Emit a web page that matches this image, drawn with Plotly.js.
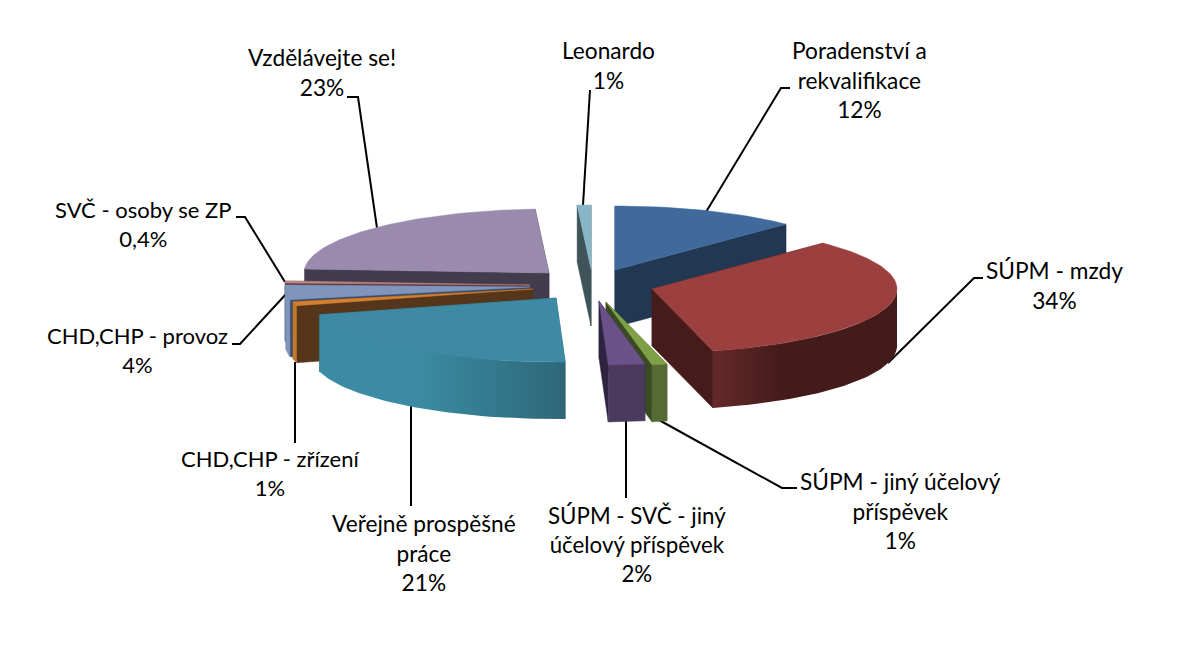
<!DOCTYPE html>
<html><head><meta charset="utf-8">
<script src="https://cdn.plot.ly/plotly-3.0.1.min.js"></script>
<style>html,body{margin:0;padding:0;background:#fff}#c{width:1194px;height:645px}</style>
</head><body><div id="c"></div>
<script>
// ---- data (clockwise from 12 o'clock) ----
var categories = ["Poradenství a<br>rekvalifikace","SÚPM - mzdy","SÚPM - jiný účelový<br>příspěvek","SÚPM - SVČ - jiný<br>účelový příspěvek","Veřejně prospěšné<br>práce","CHD,CHP - zřízení","CHD,CHP - provoz","SVČ - osoby se ZP","Vzdělávejte se!","Leonardo"];
var shares = [12.3,33.7,1.0,2.4,21.4,1.0,3.7,0.5,23.1,0.9];
var shareLabels = ["12%","34%","1%","2%","21%","1%","4%","0,4%","23%","1%"];

// ---- pie projection ----
var RX=245, RY=64, DEPTH=57;
// exploded apex of each slice, in axis units
var apexX=[615,652,606,599,556,533,530,530,549,591];
var apexY=[270,289,302,301,298,289,287,285,273,269];
var drawOrder=[9,0,8,7,6,5,1,2,3,4];
var topColors=["#416a9c","#9b403e","#80a048","#6a5288","#3e8aa4","#d58030","#7f95bc","#c08886","#9a8aae","#86b6c8"];
var wallColors=["#223752","#451c19","#3a4a22","#2e2340","#2f6878","#56361a","#3a4d6e","#5f3a3f","#423c4c","#3f5459"];
var outerFrom=["#223752","#66292a","#566a33","#4c3a5e","#3a8ba3","#c07a30","#7f95bc","#c08886","#423c4c","#3f5459"];
var outerTo=["#223752","#431b1a","#566a33","#4c3a5e","#2e6777","#c07a30","#7f95bc","#c08886","#423c4c","#3f5459"];
var gradientStops=[null,[[0,0],[0.38,1],[1,1]],null,null,[[0,0],[0.4,0],[1,1]],null,null,null,null,null];
// label placement
var labelX=[859,1054,900,637,424,270,137,143,322,608];
var labelY=[80,285,511,544,553,473,350,224,72,65];
var labelSize=[22.7,22.7,22.7,22.3,22.7,22,22,22,22.7,22.7];
// leader lines
var leaderX=[[706,781,790],[888,974,983],[659,782,797],[626,626],[411,411],[295,295],[287,240,232],[285,245,236],[377,358,347],[583,590]];
var leaderY=[[212,88,88],[363,278,278],[420,488,488],[421,498],[406,506],[362,443],[293,344,344],[282,217,217],[228,97,97],[205,90]];

function pt(i,t,drop){var a=t*Math.PI/180;return [apexX[i]+RX*Math.sin(a),apexY[i]-RY*Math.cos(a)+(drop?DEPTH:0)];}
function poly(name,pts,color,scale){
  var tr={type:"scatter",mode:"lines",name:name,hoverinfo:"skip",showlegend:false,fill:"toself",
    x:pts.map(function(p){return p[0]}).concat(pts[0][0]),
    y:pts.map(function(p){return p[1]}).concat(pts[0][1]),
    fillcolor:color,line:{width:0.5,color:color}};
  if(scale){tr.fillgradient={type:"horizontal",colorscale:scale};tr.line={width:0};delete tr.fillcolor;}
  return tr;
}
function wall(i,t){var a=[apexX[i],apexY[i]],b=pt(i,t,false),c=pt(i,t,true);return [a,b,c,[a[0],a[1]+DEPTH]];}
function arc(i,t0,t1,drop){var r=[],n=Math.max(2,Math.ceil(Math.abs(t1-t0)/1.5));for(var k=0;k<=n;k++)r.push(pt(i,t0+(t1-t0)*k/n,drop));return r;}

var starts=[],acc=0;shares.forEach(function(s){starts.push(acc);acc+=s;});
var traces=[];
leaderX.forEach(function(lx,i){traces.push({type:"scatter",mode:"lines",name:"leader",hoverinfo:"skip",showlegend:false,x:lx,y:leaderY[i],line:{color:"#000",width:2}});});
drawOrder.forEach(function(i){
  var t0=starts[i]*3.6,t1=(starts[i]+shares[i])*3.6,nm=categories[i].replace("<br>"," ");
  if((t0+t1)/2<180){traces.push(poly(nm,wall(i,t0),wallColors[i]));traces.push(poly(nm,wall(i,t1),wallColors[i]));}
  else{traces.push(poly(nm,wall(i,t1),wallColors[i]));traces.push(poly(nm,wall(i,t0),wallColors[i]));}
  var f0=Math.max(t0,90),f1=Math.min(t1,270);
  if(f1>f0){
    var up=arc(i,f0,f1,false),down=arc(i,f1,f0,true);
    var scale=gradientStops[i]?gradientStops[i].map(function(s){return [s[0],s[1]?outerTo[i]:outerFrom[i]];}):null;
    traces.push(poly(nm,up.concat(down),outerTo[i],scale));
  }
  traces.push(poly(nm,[[apexX[i],apexY[i]]].concat(arc(i,t0,t1,false)),topColors[i]));
});

var annotations=categories.map(function(c,i){return {x:labelX[i],y:labelY[i],xref:"x",yref:"y",xanchor:"center",yanchor:"middle",align:"center",showarrow:false,text:c+"<br>"+shareLabels[i],font:{family:"Lato, 'Open Sans', sans-serif",size:labelSize[i],color:"#000"}};});

Plotly.newPlot("c",traces,{
  width:1194,height:645,margin:{l:0,r:0,t:0,b:0},paper_bgcolor:"#fff",plot_bgcolor:"#fff",showlegend:false,
  xaxis:{range:[0,1194],visible:false,fixedrange:true},
  yaxis:{range:[645,0],visible:false,fixedrange:true},
  annotations:annotations
},{displayModeBar:false,staticPlot:true});
</script></body></html>
